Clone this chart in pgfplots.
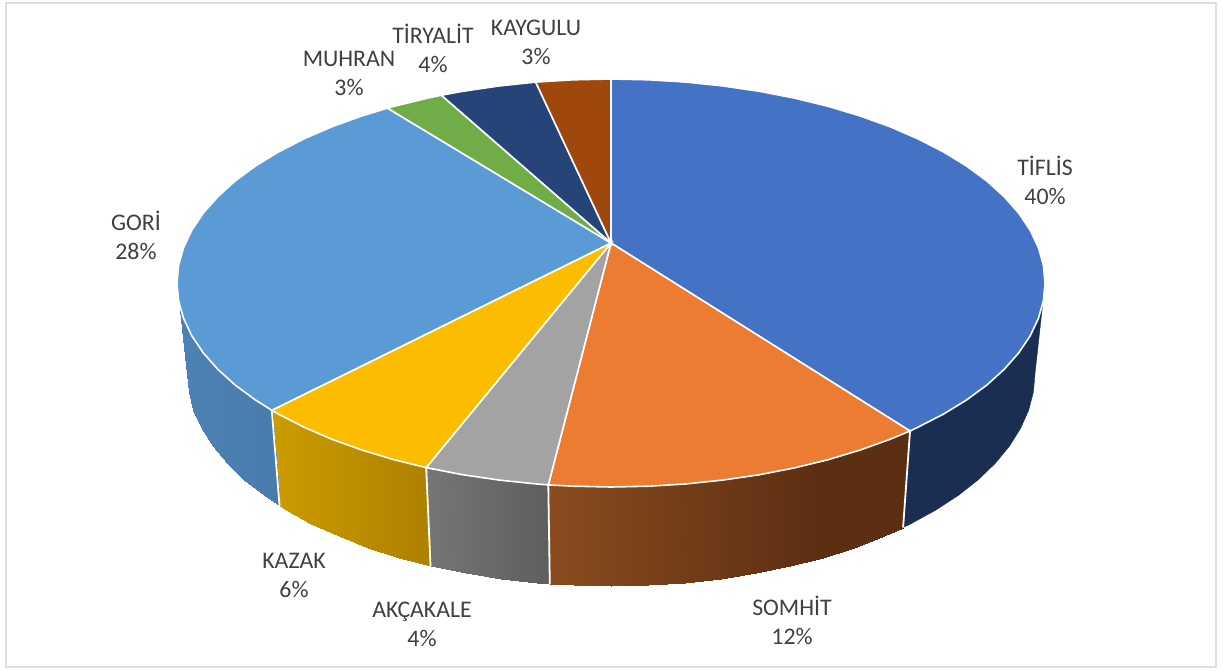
\documentclass[border=0pt]{standalone}
\usepackage{pgfplots}
\pgfplotsset{compat=1.18}
\usepackage{fontspec}
\setmainfont{Carlito}
\definecolor{cT}{HTML}{4472C4}\definecolor{cS}{HTML}{EC7C31}\definecolor{cA}{HTML}{A3A3A3}
\definecolor{cK}{HTML}{FCBD00}\definecolor{cG}{HTML}{5B9BD5}\definecolor{cM}{HTML}{70AD47}
\definecolor{cY}{HTML}{264478}\definecolor{cL}{HTML}{9E480E}
\definecolor{sT}{HTML}{1A2E52}
\definecolor{lbl}{HTML}{404040}\definecolor{frm}{HTML}{DEDEDE}
\newcommand{\lab}[4]{\node[align=center,text=lbl,font=\fontsize{23.8}{29}\selectfont] at (axis cs:#1,#2) {#3\\#4};}
\pgfplotsset{wall/.style={patch,patch type=rectangle,shader=interp,point meta=x}}
\begin{document}
\begin{tikzpicture}
\begin{axis}[width=1223pt,height=670pt,scale only axis,hide axis,xmin=0,xmax=1223,ymin=0,ymax=670,y dir=reverse,clip=true,point meta min=177,point meta max=910]
% page and frame
\addplot[fill=white,draw=none] coordinates {(0,0)(1223,0)(1223,670)(0,670)} --cycle;
\addplot[draw=frm,line width=2pt] coordinates {(5.5,2.5)(1216,2.5)(1216,667)(5.5,667)} --cycle;
% side wall TIFLIS
\addplot[fill=sT,draw=sT,line width=0.4pt] coordinates {(1045,283)(1043.4,300.8)(1038.4,318.4)(1030.2,335.8)(1018.8,352.8)(1004.3,369.2)(986.9,385)(966.5,400)(943.5,414.1)(917.9,427.2)(910,431)(903.1,527.5)(910.8,523.8)(935.8,510.1)(958.3,495.4)(978.2,479.8)(995.3,463.3)(1009.4,446.2)(1020.5,428.5)(1028.6,410.4)(1033.4,392)(1035,373.5)} --cycle;
% side wall SOMHIT
\addplot[wall,colormap={wS}{rgb255(177)=(138,76,31) rgb255(549)=(138,76,31) rgb255(820)=(92,46,18) rgb255(910)=(92,46,18)}] coordinates {
(910,431)(890,439.3)(883.5,536.3)(903.1,527.5)
(890,439.3)(860,450.1)(854.2,547.6)(883.5,536.3)
(860,450.1)(828,459.7)(823,557.5)(854.2,547.6)
(828,459.7)(794.4,467.9)(790.2,566.1)(823,557.5)
(794.4,467.9)(759.4,474.7)(756,573.2)(790.2,566.1)
(759.4,474.7)(723.3,480)(720.7,578.8)(756,573.2)
(723.3,480)(686.3,483.9)(684.6,582.8)(720.7,578.8)
(686.3,483.9)(648.8,486.2)(648,585.2)(684.6,582.8)
(648.8,486.2)(611,487)(611,586)(648,585.2)
(611,487)(573.2,486.2)(574,585.2)(611,586)
(573.2,486.2)(548.3,484.9)(549.8,583.8)(574,585.2)};
% side wall AKCAKALE
\addplot[wall,colormap={wA}{rgb255(177)=(118,118,118) rgb255(426)=(118,118,118) rgb255(549)=(94,94,94) rgb255(910)=(94,94,94)}] coordinates {
(548.3,484.9)(535.7,483.9)(537.4,582.8)(549.8,583.8)
(535.7,483.9)(498.7,480)(501.3,578.8)(537.4,582.8)
(498.7,480)(462.6,474.7)(466,573.2)(501.3,578.8)
(462.6,474.7)(426.2,467.6)(430.5,565.8)(466,573.2)};
% side wall KAZAK
\addplot[wall,colormap={wK}{rgb255(177)=(204,156,0) rgb255(272)=(204,156,0) rgb255(430)=(174,128,0) rgb255(910)=(174,128,0)}] coordinates {
(426.2,467.6)(394,459.7)(399,557.5)(430.5,565.8)
(394,459.7)(362.1,450.1)(367.8,547.6)(399,557.5)
(362.1,450.1)(332,439.3)(338.5,536.3)(367.8,547.6)
(332,439.3)(304.1,427.2)(311.2,523.8)(338.5,536.3)
(304.1,427.2)(278.5,414.1)(286.2,510.1)(311.2,523.8)
(278.5,414.1)(271.8,410.3)(279.6,506.1)(286.2,510.1)};
% side wall GORI
\addplot[wall,colormap={wG}{rgb255(177)=(77,130,182) rgb255(281)=(73,124,172) rgb255(910)=(73,124,172)}] coordinates {
(271.8,410.3)(255.5,400)(263.7,495.4)(279.6,506.1)
(255.5,400)(235.1,385)(243.8,479.8)(263.7,495.4)
(235.1,385)(217.7,369.2)(226.7,463.3)(243.8,479.8)
(217.7,369.2)(203.2,352.8)(212.6,446.2)(226.7,463.3)
(203.2,352.8)(191.8,335.8)(201.5,428.5)(212.6,446.2)
(191.8,335.8)(183.6,318.4)(193.4,410.4)(201.5,428.5)
(183.6,318.4)(178.6,300.8)(188.6,392)(193.4,410.4)
(178.6,300.8)(177,283)(187,373.5)(188.6,392)};
% separators on the wall
\addplot[draw=white,line width=1.8pt] coordinates {(910,431)(903.1,527.5)};
\addplot[draw=white,line width=1.8pt] coordinates {(548.3,484.9)(549.8,583.8)};
\addplot[draw=white,line width=1.8pt] coordinates {(426.2,467.6)(430.5,565.8)};
\addplot[draw=white,line width=1.8pt] coordinates {(271.8,410.3)(279.6,506.1)};
% top face
\addplot[fill=cT,draw=white,line width=1.6pt] coordinates {(611,243)(611,79)(648.8,79.8)(686.3,82.1)(723.3,86)(759.4,91.3)(794.4,98.1)(828,106.3)(860,115.9)(890,126.7)(917.9,138.8)(943.5,151.9)(966.5,166)(986.9,181)(1004.3,196.8)(1018.8,213.2)(1030.2,230.2)(1038.4,247.6)(1043.4,265.2)(1045,283)(1043.4,300.8)(1038.4,318.4)(1030.2,335.8)(1018.8,352.8)(1004.3,369.2)(986.9,385)(966.5,400)(943.5,414.1)(917.9,427.2)(910,431)} --cycle;
\addplot[fill=cS,draw=white,line width=1.6pt] coordinates {(611,243)(910,431)(890,439.3)(860,450.1)(828,459.7)(794.4,467.9)(759.4,474.7)(723.3,480)(686.3,483.9)(648.8,486.2)(611,487)(573.2,486.2)(548.3,484.9)} --cycle;
\addplot[fill=cA,draw=white,line width=1.6pt] coordinates {(611,243)(548.3,484.9)(535.7,483.9)(498.7,480)(462.6,474.7)(426.2,467.6)} --cycle;
\addplot[fill=cK,draw=white,line width=1.6pt] coordinates {(611,243)(426.2,467.6)(394,459.7)(362.1,450.1)(332,439.3)(304.1,427.2)(278.5,414.1)(271.8,410.3)} --cycle;
\addplot[fill=cG,draw=white,line width=1.6pt] coordinates {(611,243)(271.8,410.3)(255.5,400)(235.1,385)(217.7,369.2)(203.2,352.8)(191.8,335.8)(183.6,318.4)(178.6,300.8)(177,283)(178.6,265.2)(183.6,247.6)(191.8,230.2)(203.2,213.2)(217.7,196.8)(235.1,181)(255.5,166)(278.5,151.9)(304.1,138.8)(332,126.7)(362,115.9)(387.5,108.1)} --cycle;
\addplot[fill=cM,draw=white,line width=1.6pt] coordinates {(611,243)(387.5,108.1)(394,106.3)(427.6,98.1)(441.4,95.2)} --cycle;
\addplot[fill=cY,draw=white,line width=1.6pt] coordinates {(611,243)(441.4,95.2)(462.6,91.3)(498.7,86)(535.7,82.1)} --cycle;
\addplot[fill=cL,draw=white,line width=1.6pt] coordinates {(611,243)(535.7,82.1)(573.2,79.8)(611,79)} --cycle;
% labels
\lab{1045}{180}{TİFLİS}{40\%}
\lab{792}{620}{SOMHİT}{12\%}
\lab{422}{624}{AKÇAKALE}{4\%}
\lab{294}{575}{KAZAK}{6\%}
\lab{136}{235}{GORİ}{28\%}
\lab{349}{73}{MUHRAN}{3\%}
\lab{433}{48}{TİRYALİT}{4\%}
\lab{536}{42}{KAYGULU}{3\%}
\end{axis}
\end{tikzpicture}
\end{document}
